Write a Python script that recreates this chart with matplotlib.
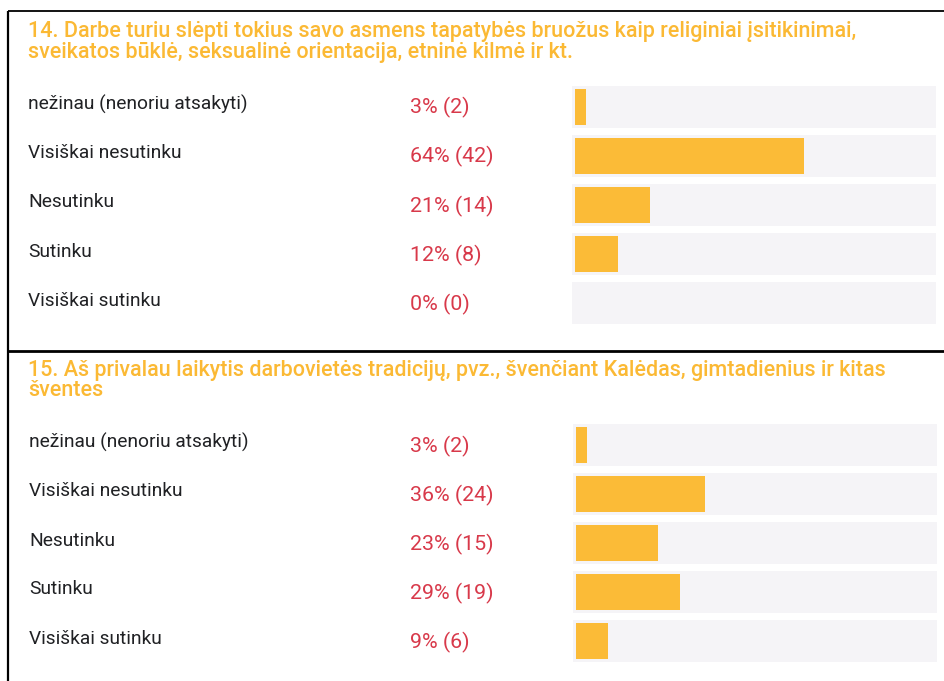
import matplotlib
matplotlib.use("Agg")
import matplotlib.pyplot as plt
import matplotlib.transforms as mtransforms

# ---- data ----
categories = ["nežinau (nenoriu atsakyti)", "Visiškai nesutinku", "Nesutinku",
              "Sutinku", "Visiškai sutinku"]
q14_title = ("14. Darbe turiu slėpti tokius savo asmens tapatybės bruožus kaip religiniai įsitikinimai,\n"
             "sveikatos būklė, seksualinė orientacija, etninė kilmė ir kt.")
q14_pct = [3, 64, 21, 12, 0]
q14_n = [2, 42, 14, 8, 0]
q15_title = ("15. Aš privalau laikytis darbovietės tradicijų, pvz., švenčiant Kalėdas, gimtadienius ir kitas\n"
             "šventes")
q15_pct = [3, 36, 23, 29, 9]
q15_n = [2, 24, 15, 19, 6]

# ---- style ----
W, H = 945, 681
ORANGE = "#FBB934"
BAR = "#FBBB37"
TRACK = "#F5F4F7"
RED = "#D8394A"
DARK = "#202124"
FONT = ["Roboto", "DejaVu Sans"]

fig = plt.figure(figsize=(W / 100, H / 100), dpi=100)
fig.patch.set_facecolor("white")

bg = fig.add_axes([0, 0, 1, 1])
bg.set_xlim(0, W)
bg.set_ylim(H, 0)
bg.axis("off")

# borders
bg.plot([8, W], [11, 11], color="black", lw=1.3, solid_capstyle="butt")
bg.plot([8, 8], [11, H], color="black", lw=1.6, solid_capstyle="butt")
bg.plot([8, W], [350.5, 350.5], color="black", lw=2.0, solid_capstyle="butt")


def panel(title, title_y, pct, n, box, label_x):
    x0, x1, y0, y1 = box
    bg.text(28, title_y, title, color=ORANGE, fontsize=15.5, fontweight="medium",
            family=FONT, va="center", ha="left", linespacing=0.95)
    ax = fig.add_axes([x0 / W, 1 - y1 / H, (x1 - x0) / W, (y1 - y0) / H])
    pad = 0.8
    ax.set_xlim(-pad, 100 + pad)
    ax.set_ylim(len(categories) - 0.5, -0.5)
    ax.axis("off")
    ypos = list(range(len(categories)))
    ax.barh(ypos, [100 + 2 * pad] * len(ypos), left=-pad, height=0.85,
            color=TRACK, linewidth=0)
    ax.barh(ypos, pct, left=0, height=0.73, color=BAR, linewidth=0)
    trans = mtransforms.blended_transform_factory(bg.transData, ax.transData)
    lab_t = mtransforms.offset_copy(trans, fig=fig, y=2.5, units="dots")
    pct_t = mtransforms.offset_copy(trans, fig=fig, y=-1.0, units="dots")
    for i, (c, p, k) in enumerate(zip(categories, pct, n)):
        bg.text(label_x, i, c, transform=lab_t, color=DARK, fontsize=13.8,
                family=FONT, va="center", ha="left")
        bg.text(409.5, i, f"{p}% ({k})", transform=pct_t, color=RED,
                fontsize=15.4, family=FONT, va="center", ha="left")
    return ax


panel(q14_title, 42, q14_pct, q14_n, (572.3, 936, 82.25, 327.75), 28)
panel(q15_title, 380.5, q15_pct, q15_n, (573.3, 937, 420.5, 665.5), 29)

fig.savefig("out.png", dpi=100, facecolor="white")
